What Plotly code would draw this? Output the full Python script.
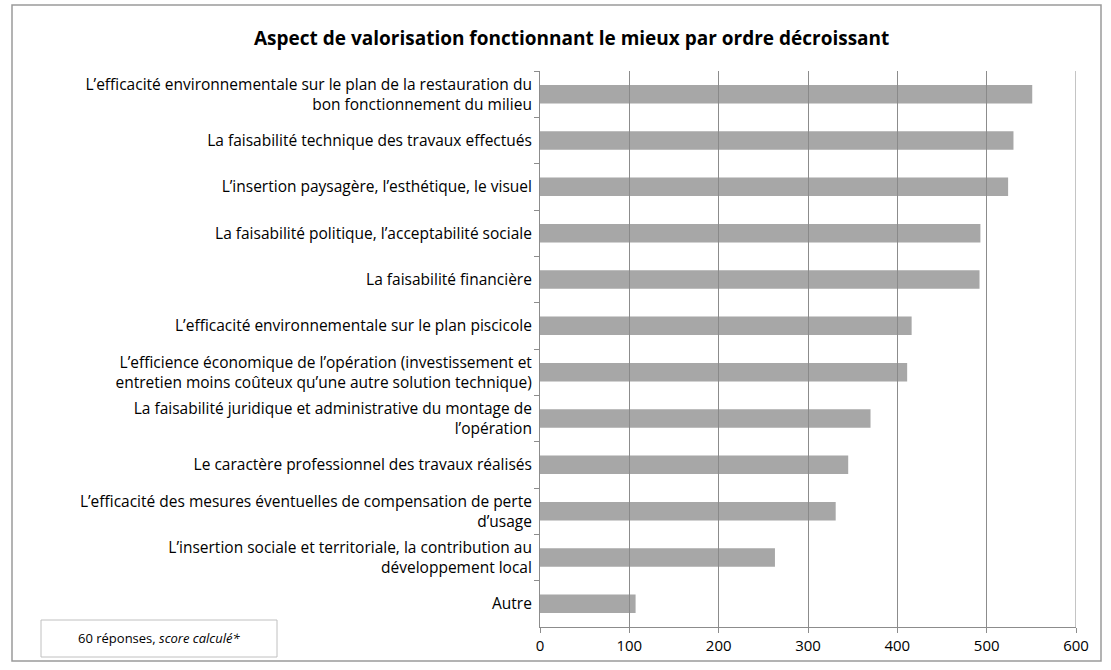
import plotly.graph_objects as go

# Aspects de valorisation, classés du mieux au moins bien noté (haut -> bas)
categories = [
    "L’efficacité environnementale sur le plan de la restauration du<br>bon fonctionnement du milieu",
    "La faisabilité technique des travaux effectués",
    "L’insertion paysagère, l’esthétique, le visuel",
    "La faisabilité politique, l’acceptabilité sociale",
    "La faisabilité financière",
    "L’efficacité environnementale sur le plan piscicole",
    "L’efficience économique de l’opération (investissement et<br>entretien moins coûteux qu’une autre solution technique)",
    "La faisabilité juridique et administrative du montage de<br>l’opération",
    "Le caractère professionnel des travaux réalisés",
    "L’efficacité des mesures éventuelles de compensation de perte<br>d’usage",
    "L’insertion sociale et territoriale, la contribution au<br>développement local",
    "Autre",
]
scores = [551, 530, 524, 493, 492, 416, 411, 370, 345, 331, 263, 107]

x_ticks = [0, 100, 200, 300, 400, 500, 600]

title_text = "Aspect de valorisation fonctionnant le mieux par ordre décroissant"
note_text = "60 réponses, <i>score calculé*</i>"

FONT = "Open Sans"

# plot-area geometry in pixels
W, H = 1111, 670
L, R, T, B = 540, 35, 71, 43
pw, ph = W - L - R, H - T - B


def px_x(px):
    return (px - L) / pw


def px_y(py):
    return (H - B - py) / ph


fig = go.Figure(
    go.Bar(
        x=scores,
        y=categories,
        orientation="h",
        width=0.4,
        marker=dict(color="rgba(138,138,138,0.75)", line=dict(width=0)),
        hoverinfo="x+y",
    )
)

fig.update_layout(
    width=W,
    height=H,
    margin=dict(l=L, r=R, t=T, b=B),
    paper_bgcolor="white",
    plot_bgcolor="white",
    showlegend=False,
    font=dict(family=FONT, size=15, color="black"),
    xaxis=dict(
        range=[0, 600],
        tickvals=x_ticks,
        ticktext=[str(v) for v in x_ticks],
        showgrid=True,
        gridcolor="#8c8c8c",
        gridwidth=1,
        zeroline=False,
        showline=True,
        linecolor="#8c8c8c",
        linewidth=1,
        ticks="outside",
        ticklen=5,
        tickcolor="#8c8c8c",
        tickfont=dict(family=FONT, size=15, color="black"),
        ticklabelstandoff=0,
        fixedrange=True,
    ),
    yaxis=dict(
        type="category",
        autorange="reversed",
        tickson="boundaries",
        ticks="outside",
        ticklen=5,
        tickcolor="#8c8c8c",
        showgrid=False,
        showline=True,
        linecolor="#8c8c8c",
        linewidth=1,
        tickfont=dict(family=FONT, size=15.5, color="black"),
        ticklabelstandoff=4,
        fixedrange=True,
    ),
)

# right edge of the plot area (600 line) in a lighter grey
fig.add_shape(type="line", xref="x", yref="paper", x0=600, x1=600, y0=0, y1=1,
              line=dict(color="#b0b0b0", width=1.5))

# outer chart frame
fig.add_shape(type="rect", xref="paper", yref="paper",
              x0=px_x(12), x1=px_x(1101), y0=px_y(661), y1=px_y(5),
              line=dict(color="#9a9a9a", width=1.5), fillcolor="rgba(0,0,0,0)")

# title
fig.add_annotation(xref="paper", yref="paper", x=px_x(571), y=px_y(38),
                   text="<b>" + title_text + "</b>", showarrow=False,
                   font=dict(family=FONT, size=19, color="black"),
                   xanchor="center", yanchor="middle")

# note box at the bottom left
fig.add_shape(type="rect", xref="paper", yref="paper",
              x0=px_x(41), x1=px_x(277), y0=px_y(657), y1=px_y(620),
              line=dict(color="#c0c0c0", width=1), fillcolor="white")
fig.add_annotation(xref="paper", yref="paper", x=px_x(159), y=px_y(638),
                   text=note_text, showarrow=False,
                   font=dict(family=FONT, size=13, color="black"),
                   xanchor="center", yanchor="middle")

fig.write_html("out.html")
